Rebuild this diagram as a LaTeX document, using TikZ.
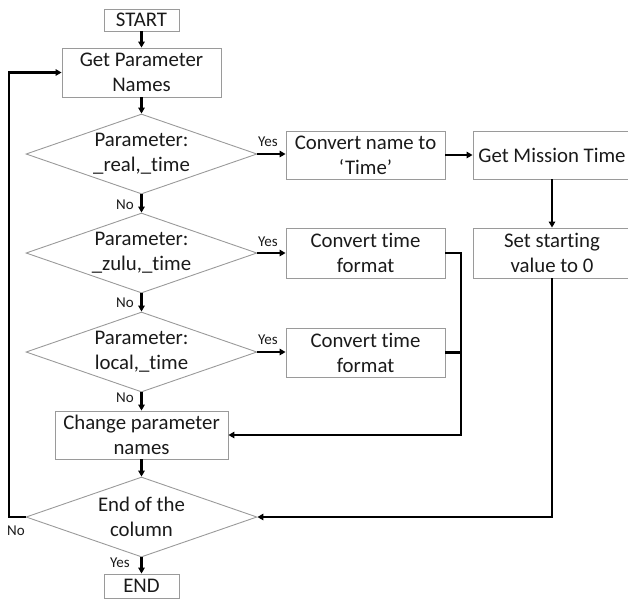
\documentclass[tikz,border=0pt]{standalone}
\usepackage{fontspec}
\setmainfont[RawFeature={-liga;-dlig}]{Carlito}
\usetikzlibrary{shapes.geometric,arrows.meta}
\definecolor{boxgray}{HTML}{9A9A9A}
\definecolor{txtcol}{HTML}{1A1A1A}
\begin{document}
\begin{tikzpicture}[x=1pt,y=-1pt,
  box/.style={draw=boxgray,line width=0.9pt,inner sep=0pt,align=center,
    text=txtcol,font=\fontsize{20.8}{25}\selectfont},
  dia/.style={draw=boxgray,line width=0.9pt,shape=diamond,inner sep=0pt,
    minimum width=231pt,minimum height=80pt},
  txt/.style={align=center,text=txtcol,inner sep=0pt,font=\fontsize{20.8}{25}\selectfont},
  lbl/.style={text=txtcol,inner sep=0pt,font=\fontsize{15}{17}\selectfont},
  conn/.style={draw=black,line width=2.4pt},
  arr/.style={conn,-{Triangle[length=6pt,width=6.5pt]}}
]
\useasboundingbox (0,0) rectangle (628,598);
\clip (0,0) rectangle (628,598);

% boxes
\node[box,minimum width=75pt,minimum height=22pt] (start) at (141.5,20) {START};
\node[box,minimum width=159pt,minimum height=49pt] (gpn) at (141.5,72.5) {Get Parameter\\Names};
\node[box,minimum width=159pt,minimum height=48pt] (cn) at (365.5,155) {Convert name to\\‘Time’};
\node[box,minimum width=158pt,minimum height=48pt] (gmt) at (552,155) {Get Mission Time};
\node[box,minimum width=159pt,minimum height=50pt] (ct1) at (365.5,253) {Convert time\\format};
\node[box,minimum width=158pt,minimum height=50pt] (ssv) at (552,253) {Set starting\\value to 0};
\node[box,minimum width=159pt,minimum height=49pt] (ct2) at (365.5,352.5) {Convert time\\format};
\node[box,minimum width=173pt,minimum height=48pt] (cpn) at (141.5,435) {Change parameter\\names};
\node[box,minimum width=75pt,minimum height=24pt] (end) at (141.5,586) {END};

% diamonds
\node[dia] (d1) at (141.5,154) {};
\node[txt] (t1) at (d1) {Parameter:\\\_real,\_time};
\node[dia] (d2) at (141.5,253) {};
\node[txt] (t2) at (d2) {Parameter:\\\_zulu,\_time};
\node[dia] (d3) at (141.5,352) {};
\node[txt] (t3) at (d3) {Parameter:\\local,\_time};
\node[dia] (d4) at (141.5,517) {};
\node[txt] (t4) at (d4) {End of the\\column};

% coordinates for routed connectors
\coordinate (lx) at (9,517);
\coordinate (ly) at (9,72.5);
\coordinate (r1) at (461,253);
\coordinate (r2) at (461,435);
\coordinate (r3) at (461,352.5);
\coordinate (s1) at (552,517);

% main column
\draw[arr] (start) -- (gpn);
\draw[arr] (gpn) -- (d1);
\draw[arr] (d1.south) -- (d2.north);
\draw[arr] (d2.south) -- (d3.north);
\draw[arr] (d3.south) -- (cpn.north);
\draw[arr] (cpn) -- (d4.north);
\draw[arr] (d4.south) -- (end.north);

% yes branches
\draw[arr] (d1.east) -- (d1.east -| cn.west);
\draw[arr] (d2.east) -- (d2.east -| ct1.west);
\draw[arr] (d3.east) -- (d3.east -| ct2.west);
\draw[arr] (cn) -- (gmt);
\draw[arr] (gmt) -- (ssv);

% returns
\draw[arr] (ct1.east) -- (r1) -- (r2) -- (cpn.east);
\draw[conn] (ct2.east) -- (r3);
\draw[arr] (ssv.south) -- (s1) -- (d4.east);
\draw[arr] (d4.west) -- (lx) -- (ly) -- (gpn.west);

% labels
\node[lbl] (y1) at (268,142) {Yes};
\node[lbl] (y2) at (268,242) {Yes};
\node[lbl] (y3) at (268,340) {Yes};
\node[lbl] (n1) at (125,205) {No};
\node[lbl] (n2) at (125,303) {No};
\node[lbl] (n3) at (125,398) {No};
\node[lbl] (y4) at (120,563) {Yes};
\node[lbl] (n4) at (16,531) {No};
\end{tikzpicture}
\end{document}
